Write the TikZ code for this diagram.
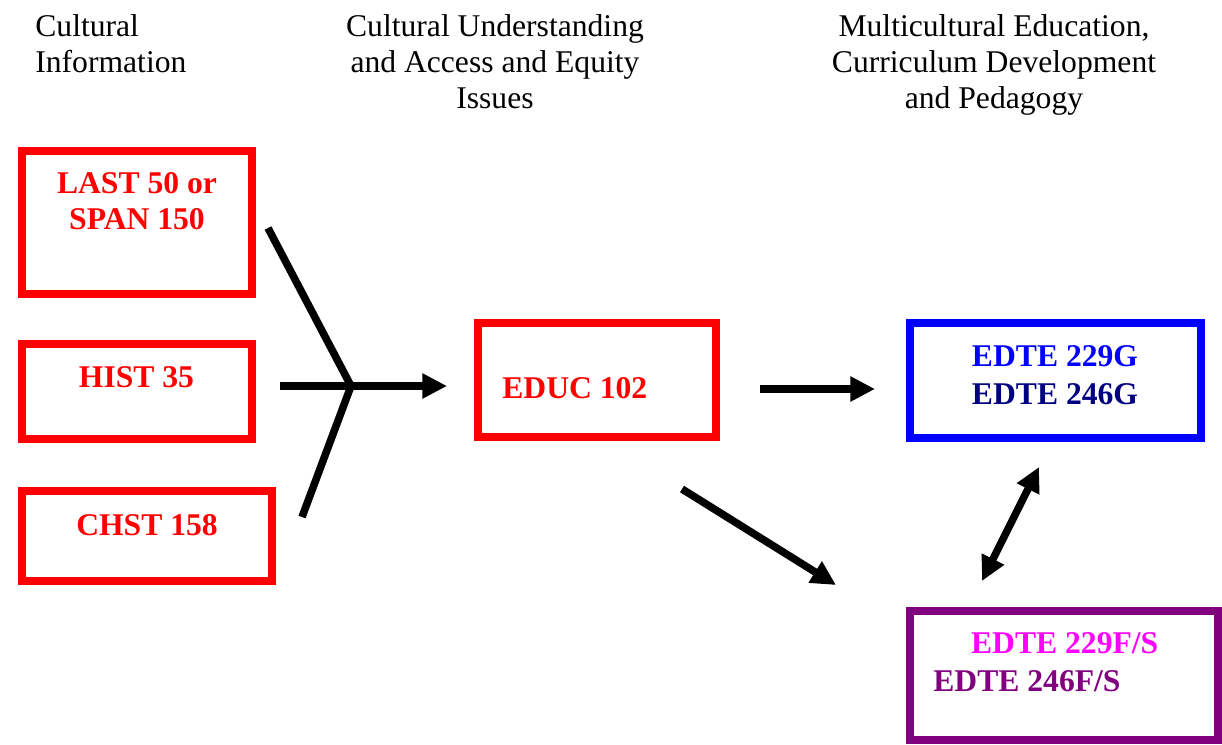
\documentclass[tikz,border=0pt]{standalone}
\usepackage{fontspec}
\setmainfont{Liberation Serif}
\usetikzlibrary{arrows.meta}
\definecolor{navyblue}{HTML}{000080}
\definecolor{edpurple}{HTML}{800080}
\definecolor{edmagenta}{HTML}{FF00FF}
\tikzset{
	coursebox/.style={draw, rectangle, line width=4.5pt, inner sep=0pt},
	flowline/.style={line width=4.3pt, draw=black},
	flowarrow/.style={flowline, -{Triangle[length=14pt, width=13.5pt]}},
	bothways/.style={flowline, {Triangle[length=14pt, width=13.5pt]}-{Triangle[length=14pt, width=13.5pt]}},
	heading/.style={inner sep=0pt, font=\fontsize{18}{20.5}\selectfont},
	course/.style={inner sep=0pt, font=\fontsize{18}{20.5}\selectfont\bfseries}
}

\begin{document}
\begin{tikzpicture}[x=0.02cm, y=-0.02cm]
			%%%%% START %%%%%
			\useasboundingbox (0, 0) rectangle (1222, 744);
			
			% column headings
			\node[heading, anchor=north west, align=left] (infohead) at (35, 14) {Cultural\\Information};
			\node[heading, anchor=north, align=center] (accesshead) at (495, 14) {Cultural Understanding\\and Access and Equity\\Issues};
			\node[heading, anchor=north, align=center] (pedhead) at (994, 14) {Multicultural Education,\\Curriculum Development\\and Pedagogy};
			
			% boxes
			\node[coursebox, draw=red, minimum width=4.6cm, minimum height=2.86cm] (last) at (137, 222.5) {};
			\node[coursebox, draw=red, minimum width=4.6cm, minimum height=1.9cm] (hist) at (137, 391.5) {};
			\node[coursebox, draw=red, minimum width=5.0cm, minimum height=1.8cm] (chst) at (147, 536) {};
			\node[coursebox, draw=red, minimum width=4.76cm, minimum height=2.28cm] (educ) at (597, 380) {};
			\node[coursebox, draw=blue, minimum width=5.82cm, minimum height=2.3cm] (edteg) at (1055.5, 380.5) {};
			\node[coursebox, draw=edpurple, minimum width=6.16cm, minimum height=2.58cm] (edtefs) at (1064, 675.5) {};
			
			% course labels
			\node[course, red, anchor=north, align=center] (lastlbl) at (137, 172) {LAST 50 or\\SPAN 150};
			\node[course, red, anchor=base] (histlbl) at (136.5, 387) {HIST 35};
			\node[course, red, anchor=base] (chstlbl) at (147, 535) {CHST 158};
			\node[course, red, anchor=base west] (educlbl) at (502, 398) {EDUC 102};
			\node[course, anchor=north, align=center] (edteglbl) at (1055, 345)
				{\textcolor{blue}{EDTE 229G}\\[1pt]\textcolor{navyblue}{EDTE 246G}};
			\node[course, anchor=north west, align=left] (edtefslbl) at (933, 632)
				{\hspace*{21.5pt}\textcolor{edmagenta}{EDTE 229F/S}\\[1pt]\textcolor{edpurple}{EDTE 246F/S}};
			
			% connector ends
			\coordinate (fanup) at (268, 228);
			\coordinate (fanjoin) at (351, 386);
			\coordinate (fandown) at (302, 517);
			\coordinate (fanstart) at (280, 386);
			\coordinate (fanend) at (447, 386);
			\coordinate (educout) at (760, 389);
			\coordinate (edtegin) at (875, 389);
			\coordinate (educdiag) at (682, 489);
			\coordinate (edtefsin) at (836, 585);
			\coordinate (edtegdown) at (1039, 467);
			\coordinate (edtefsup) at (982, 581);
			
			% connectors
			\draw[flowline] (fanup) -- (fanjoin) -- (fandown);
			\draw[flowarrow] (fanstart) -- (fanend);
			\draw[flowarrow] (educout) -- (edtegin);
			\draw[flowarrow] (educdiag) -- (edtefsin);
			\draw[bothways] (edtefsup) -- (edtegdown);
			
			%%%%% END %%%%%
		\end{tikzpicture}
\end{document}
